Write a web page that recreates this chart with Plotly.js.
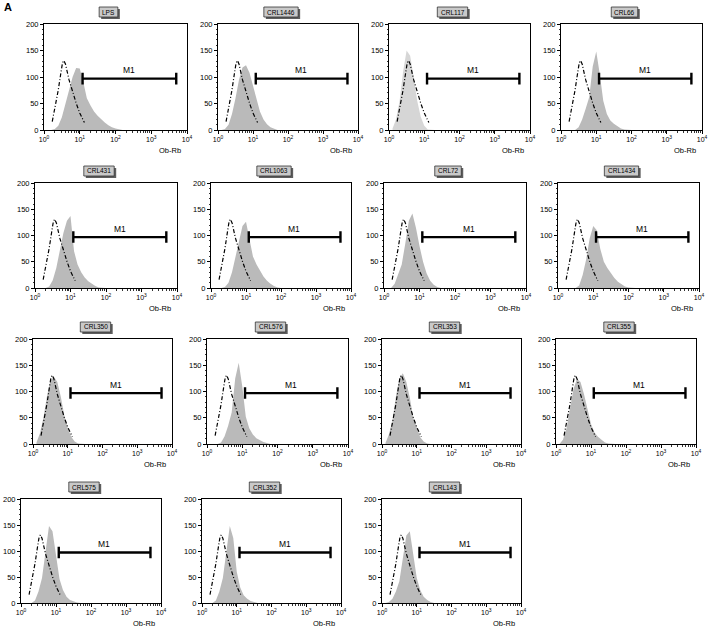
<!DOCTYPE html>
<html>
<head>
<meta charset="utf-8">
<script src="https://cdn.plot.ly/plotly-3.0.1.min.js"></script>
<style>body{margin:0;background:#fff}#chart{width:708px;height:639px}</style>
</head>
<body>
<div id="chart"></div>
<script>
// histogram bin centres (0.1 decade steps on the Ob-Rb axis)
const bins = [1.26, 1.58, 2.0, 2.51, 3.16, 3.98, 5.01, 6.31, 7.94, 10, 12.6, 15.8, 20, 25.1, 31.6, 39.8, 50.1, 63.1, 79.4, 100, 126, 158];

const samples = ['LPS', 'CRL1446', 'CRL117', 'CRL66', 'CRL431', 'CRL1063', 'CRL72', 'CRL1434',
                 'CRL350', 'CRL576', 'CRL353', 'CRL355', 'CRL575', 'CRL352', 'CRL143'];

// cell counts per bin
const cntLPS     = [0, 0, 2, 8, 24, 48, 75, 100, 117, 116, 90, 60, 46, 35, 27, 20, 14, 9, 5, 3, 1, 0];
const cntCRL1446 = [0, 2, 10, 30, 60, 95, 118, 122, 108, 82, 56, 35, 20, 11, 5, 2, 0, 0, 0, 0, 0, 0];
const cntCRL117  = [3, 20, 55, 110, 150, 140, 100, 55, 25, 8, 1, 0, 0, 0, 0, 0, 0, 0, 0, 0, 0, 0];
const cntCRL66   = [0, 0, 0, 0, 5, 20, 40, 62, 120, 148, 105, 55, 30, 18, 12, 7, 3, 1, 0, 0, 0, 0];
const cntCRL431  = [0, 0, 0, 3, 15, 38, 70, 105, 128, 137, 70, 45, 30, 20, 13, 8, 4, 1, 0, 0, 0, 0];
const cntCRL1063 = [0, 0, 0, 2, 10, 30, 58, 90, 118, 126, 95, 60, 45, 33, 22, 14, 8, 4, 1, 0, 0, 0];
const cntCRL72   = [0, 0, 8, 25, 45, 85, 128, 142, 115, 80, 50, 28, 14, 6, 2, 0, 0, 0, 0, 0, 0, 0];
const cntCRL1434 = [0, 0, 0, 0, 0, 5, 25, 55, 95, 118, 110, 75, 50, 38, 28, 19, 12, 7, 3, 1, 0, 0];
const cntCRL350  = [3, 20, 50, 90, 120, 128, 118, 90, 55, 30, 14, 5, 1, 0, 0, 0, 0, 0, 0, 0, 0, 0];
const cntCRL576  = [0, 0, 0, 3, 15, 35, 60, 125, 155, 110, 52, 30, 18, 11, 7, 4, 2, 0, 0, 0, 0, 0];
const cntCRL353  = [2, 18, 45, 90, 125, 135, 118, 88, 50, 30, 13, 5, 1, 0, 0, 0, 0, 0, 0, 0, 0, 0];
const cntCRL355  = [0, 8, 30, 65, 105, 124, 118, 95, 65, 38, 22, 14, 8, 3, 1, 0, 0, 0, 0, 0, 0, 0];
const cntCRL575  = [0, 0, 0, 5, 22, 48, 100, 148, 138, 90, 46, 25, 12, 6, 3, 1, 0, 0, 0, 0, 0, 0];
const cntCRL352  = [0, 0, 0, 5, 22, 48, 100, 148, 125, 60, 30, 15, 8, 4, 2, 0, 0, 0, 0, 0, 0, 0];
const cntCRL143  = [0, 2, 8, 22, 42, 85, 130, 138, 95, 48, 25, 12, 6, 2, 0, 0, 0, 0, 0, 0, 0, 0];

const counts = [cntLPS, cntCRL1446, cntCRL117, cntCRL66, cntCRL431, cntCRL1063, cntCRL72, cntCRL1434,
                cntCRL350, cntCRL576, cntCRL353, cntCRL355, cntCRL575, cntCRL352, cntCRL143];

// isotype control (dash-dot curve, same in every panel)
const ctrlX = [1.7, 2.0, 2.5, 3.0, 3.3, 3.6, 4.0, 5.0, 6.3, 8.0, 10, 12, 13.5];
const ctrlY = [16, 40, 75, 110, 127, 131, 124, 95, 72, 50, 32, 20, 14];

// M1 gate
const gateM1 = [12, 5000];
const gateY = 97;
const gateCap = 11;

const xTicks = [1, 10, 100, 1000, 10000];
const xTickText = ['10<sup>0</sup>', '10<sup>1</sup>', '10<sup>2</sup>', '10<sup>3</sup>', '10<sup>4</sup>'];

// panel boxes in pixels: left, right, top, bottom
const boxes = [
  [44, 187, 24, 130], [218, 358, 24, 130], [389, 530, 24, 130], [561, 702, 24, 130],
  [35, 177, 183, 288], [211, 351, 183, 288], [384, 526, 183, 288], [558, 699, 183, 288],
  [33, 172, 339, 444], [207, 348, 339, 444], [382, 521, 339, 444], [556, 696, 339, 444],
  [21, 161, 499, 603], [202, 341, 499, 603], [382, 521, 499, 603]
];

const W = 708, H = 639;
const px = x => x / W;
const py = y => 1 - y / H;
const fnt = 'Liberation Sans, Arial, sans-serif';

const minorX = [];
[1, 10, 100, 1000].forEach(d => { for (let k = 2; k < 10; k++) minorX.push(d * k); });

const data = [];
const layout = {
  width: W, height: H,
  margin: {l: 0, r: 0, t: 0, b: 0},
  showlegend: false,
  paper_bgcolor: '#fff', plot_bgcolor: '#fff',
  font: {family: fnt, color: '#000', size: 7},
  shapes: [],
  annotations: [{
    text: '<b>A</b>', xref: 'paper', yref: 'paper', x: px(8), y: py(7),
    xanchor: 'center', yanchor: 'middle',
    showarrow: false, font: {size: 11, family: fnt, color: '#000'}
  }]
};

samples.forEach((name, i) => {
  const n = i + 1;
  const sfx = n > 1 ? String(n) : '';
  const xa = 'x' + sfx, ya = 'y' + sfx;
  const [x0, x1, y0, y1] = boxes[i];
  const fillCol = name === 'CRL117' ? '#d6d6d6' : '#bababa';

  data.push({
    x: bins, y: counts[i], xaxis: xa, yaxis: ya, type: 'scatter', mode: 'lines',
    fill: 'tozeroy', fillcolor: fillCol,
    line: {width: 0, color: fillCol}, hoverinfo: 'skip'
  });
  data.push({
    x: ctrlX, y: ctrlY, xaxis: xa, yaxis: ya, type: 'scatter', mode: 'lines',
    line: {color: '#000', width: 1.2, dash: '4px,2px,1px,2px'}, hoverinfo: 'skip'
  });
  data.push({
    x: [gateM1[0], gateM1[0], gateM1[0], gateM1[1], gateM1[1], gateM1[1]],
    y: [gateY - gateCap, gateY + gateCap, gateY, gateY, gateY - gateCap, gateY + gateCap],
    xaxis: xa, yaxis: ya, type: 'scatter', mode: 'lines',
    line: {color: '#000', width: 2.4}, hoverinfo: 'skip'
  });

  layout['xaxis' + sfx] = {
    type: 'log', range: [0, 4], domain: [px(x0), px(x1)], anchor: ya,
    tickmode: 'array', tickvals: xTicks, ticktext: xTickText,
    ticks: 'outside', ticklen: 3, tickwidth: 1, tickcolor: '#000',
    minor: {tickmode: 'array', tickvals: minorX, ticks: 'outside', ticklen: 2, tickwidth: 0.8, tickcolor: '#000'},
    showline: true, mirror: true, linecolor: '#000', linewidth: 1,
    showgrid: false, zeroline: false, fixedrange: true,
    tickfont: {size: 7, family: fnt, color: '#000'}
  };
  layout['yaxis' + sfx] = {
    range: [0, 200], domain: [py(y1), py(y0)], anchor: xa,
    tickmode: 'array', tickvals: [0, 50, 100, 150, 200],
    ticks: 'outside', ticklen: 3, tickwidth: 1, tickcolor: '#000',
    minor: {dtick: 10, ticks: 'outside', ticklen: 1.5, tickwidth: 0.8, tickcolor: '#000'},
    showline: true, mirror: true, linecolor: '#000', linewidth: 1,
    showgrid: false, zeroline: false, fixedrange: true,
    tickfont: {size: 7.5, family: fnt, color: '#000'}
  };

  // sample label box with drop shadow
  const cx = (x0 + x1) / 2 - 7, cy = y0 - 12;
  const bw = name.length * 3.9 + 7, bh = 10;
  layout.shapes.push({
    type: 'rect', xref: 'paper', yref: 'paper', layer: 'below',
    x0: px(cx - bw / 2 + 2), x1: px(cx + bw / 2 + 2), y0: py(cy + bh / 2 + 2), y1: py(cy - bh / 2 + 2),
    fillcolor: '#5e5e5e', line: {width: 0}
  });
  layout.shapes.push({
    type: 'rect', xref: 'paper', yref: 'paper', layer: 'below',
    x0: px(cx - bw / 2), x1: px(cx + bw / 2), y0: py(cy + bh / 2), y1: py(cy - bh / 2),
    fillcolor: '#c9c9c9', line: {width: 0.8, color: '#333'}
  });
  layout.annotations.push({
    text: name, xref: 'paper', yref: 'paper', x: px(cx), y: py(cy),
    xanchor: 'center', yanchor: 'middle',
    showarrow: false, font: {size: 6.5, family: fnt, color: '#000'}
  });
  // M1 gate label
  layout.annotations.push({
    text: 'M1', xref: xa, yref: ya, x: Math.log10(240), y: 113,
    xanchor: 'center', yanchor: 'middle',
    showarrow: false, font: {size: 8.5, family: fnt, color: '#000'}
  });
  // axis name
  layout.annotations.push({
    text: 'Ob-Rb', xref: 'paper', yref: 'paper', x: px(x1 - 17), y: py(y1 + 20),
    xanchor: 'center', yanchor: 'middle',
    showarrow: false, font: {size: 7.5, family: fnt, color: '#000'}
  });
});

Plotly.newPlot('chart', data, layout, {staticPlot: true});
</script>
</body>
</html>
